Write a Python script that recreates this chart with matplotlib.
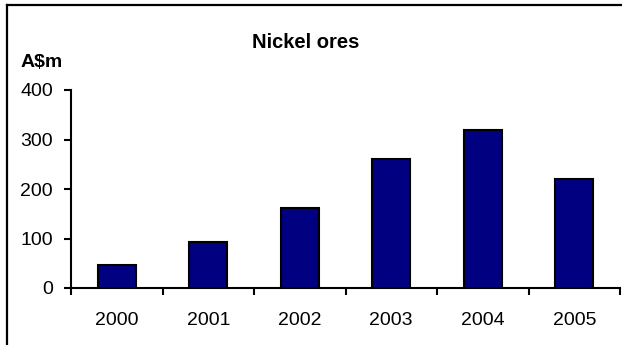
import numpy as np
import matplotlib
matplotlib.use("Agg")
import matplotlib.pyplot as plt
from matplotlib.lines import Line2D

years = ["2000", "2001", "2002", "2003", "2004", "2005"]
values = [47, 92, 161, 260, 319, 220]
yticks = [0, 100, 200, 300, 400]

plt.rcParams["font.family"] = ["Liberation Sans", "DejaVu Sans"]

W, H = 622, 345
fig = plt.figure(figsize=(W / 100, H / 100), dpi=100)

# axes box in pixels (left, top, right, bottom)
l, t, r, b = 71, 90, 620, 288
ax = fig.add_axes([l / W, 1 - b / H, (r - l) / W, (b - t) / H])

x = np.arange(len(years))
ax.bar(x, values, width=0.42, color="#000080", edgecolor="black", linewidth=1.5, zorder=3)

ax.set_xlim(-0.5, len(years) - 0.5)
ax.set_ylim(0, 400)
ax.set_yticks(yticks)
ax.set_yticklabels([str(v) for v in yticks], fontsize=14)

# category boundaries carry the ticks, labels sit in between
ax.set_xticks(np.arange(-0.5, len(years), 1.0))
ax.set_xticklabels([])
ax.set_xticks(x, minor=True)
ax.set_xticklabels(years, minor=True, fontsize=14)
ax.tick_params(axis="x", which="major", direction="out", length=5, width=1.5)
ax.tick_params(axis="x", which="minor", length=0, pad=17)
ax.tick_params(axis="y", direction="out", length=5, width=1.5, pad=8)

for s in ["top", "right"]:
    ax.spines[s].set_visible(False)
for s in ["left", "bottom"]:
    ax.spines[s].set_linewidth(1.5)

fig.text(306 / W, 1 - 43 / H, "Nickel ores", fontsize=14.5, fontweight="bold",
         ha="center", va="center")
fig.text(21 / W, 1 - 67 / H, "A$m", fontsize=14, fontweight="bold",
         ha="left", va="baseline")

# outer frame (only left and top edges are visible in the crop)
fig.add_artist(Line2D([7 / W, 7 / W], [0, 1 - 5 / H], color="black", lw=1.6,
                      transform=fig.transFigure))
fig.add_artist(Line2D([7 / W, 1], [1 - 5 / H, 1 - 5 / H], color="black", lw=1.6,
                      transform=fig.transFigure))

fig.savefig("out.png", dpi=100)
